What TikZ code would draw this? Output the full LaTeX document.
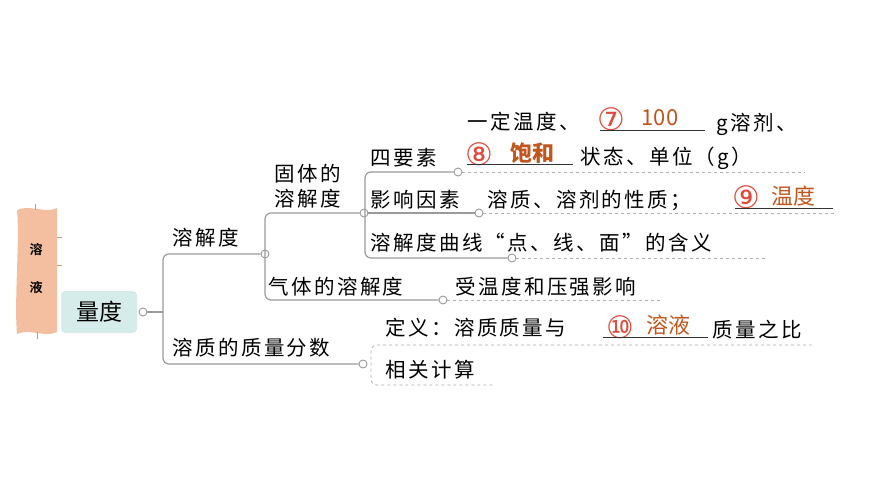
\documentclass[tikz,border=0pt]{standalone}
\usepackage{fontspec}
\setmainfont{Noto Sans CJK SC}
\newfontfamily\cj[LetterSpace=12]{Noto Sans CJK SC}
\newfontfamily\cjb[BoldFont={Noto Sans CJK SC Bold}]{Noto Sans CJK SC}
\newfontfamily\circfont{DejaVu Sans}
\definecolor{ans}{HTML}{C0561E}
\definecolor{num}{HTML}{E04A3A}
\definecolor{ln}{HTML}{9A9A9A}
\definecolor{band}{HTML}{F4BFA0}
\definecolor{tealbox}{HTML}{D6ECEA}
\begin{document}
\begin{tikzpicture}[x=1pt,y=-1pt,
  t/.style={anchor=west,inner sep=0pt,font=\fontsize{20.5}{20.5}\selectfont\cj},
  a/.style={anchor=center,inner sep=0pt,text=ans,font=\fontsize{22}{22}\selectfont},
  n/.style={anchor=center,inner sep=0pt,text=num,font=\fontsize{31}{31}\selectfont\circfont},
  br/.style={draw=ln,line width=1.2pt,rounded corners=6pt},
  dl/.style={draw=ln!80,line width=0.8pt,dashed},
  ul/.style={draw=black!80,line width=1pt},
  dot/.style={circle,draw=ln,fill=white,line width=0.9pt,inner sep=0pt,minimum size=8pt}]
\useasboundingbox (0,0) rectangle (870,489);
% banner
\fill[band] (17,210) .. controls (30,204) and (45,214) .. (57,208) -- (57,332) .. controls (45,338) and (30,328) .. (17,334) .. controls (14,300) and (20,240) .. (17,210);
\draw[band!80!black,line width=0.8pt] (35,204)--(35,210) (57,237)--(62,237) (57,265)--(62,265) (37,332)--(37,339);
\node[font=\fontsize{13}{13}\selectfont\cjb\bfseries] (r1) at (36,250) {溶};
\node[font=\fontsize{13}{13}\selectfont\cjb\bfseries] (r2) at (36,288) {液};
% 量度
\node[fill=tealbox,rounded corners=4pt,minimum width=76pt,minimum height=42pt,font=\fontsize{23}{23}\selectfont] (ld) at (99,312) {量度};
\node[dot] (c0) at (143,312) {};
\coordinate (b0) at (163,312);
\draw[br] (c0)--(b0);
\node[dot] (c1) at (265,254) {};
\node[dot] (c2) at (363,364) {};
\draw[br] (c1) -- (163,254) -- (163,364) -- (c2);
\node[t] (s1) at (172,238) {溶解度};
\node[t] (s2) at (172,348) {溶质的质量分数};
% solid solubility
\node[dot] (c3) at (364,213) {};
\node[dot] (c4) at (443,300) {};
\draw[br] (c3) -- (265,213) -- (265,300) -- (c4);
\draw[br] (c1)--(265,254);
\node[t,font=\fontsize{20.5}{25}\selectfont\cj,align=left] (g1) at (274,186) {固体的\\溶解度};
\node[t] (q1) at (268,287) {气体的溶解度};
\node[t] (q2) at (455,287) {受温度和压强影响};
\coordinate (q2e) at (662,300);
\draw[dl] (c4)--(q2e);
% four elements
\node[dot] (c5) at (458,172) {};
\node[dot] (c6) at (479,213) {};
\node[dot] (c7) at (512,258) {};
\draw[br] (c5) -- (365,172) -- (365,258) -- (c7);
\draw[br] (c3) -- (c6);
\node[t] (f1) at (370,158) {四要素};
\node[t] (f2) at (370,200) {影响因素};
\node[t] (f3) at (370,243) {溶解度曲线“点、线、面”的含义};
\coordinate (d1) at (805,172);
\coordinate (d2) at (835,213);
\coordinate (d3) at (765,258);
\draw[dl] (c5)--(d1);
\draw[dl] (c6)--(d2);
\draw[dl] (c7)--(d3);
% line 1
\node[t] (l1a) at (467,122) {一定温度、};
\node[n] (n7) at (611,119) {⑦};
\node[a] (a7) at (660,118) {100};
\draw[ul] (600,131)--(705,131);
\node[t] (l1b) at (716,124) {g溶剂、};
% line 2
\node[n] (n8) at (479,154) {⑧};
\node[a,font=\fontsize{22}{22}\selectfont\bfseries] (a8) at (532,153) {饱和};
\draw[ul] (467,165)--(573,165);
\node[t] (l2) at (580,158) {状态、单位（g）};
% line 3
\node[t] (l3) at (487,200) {溶质、溶剂的性质；};
\node[n] (n9) at (746,197) {⑨};
\node[a] (a9) at (793,196) {温度};
\draw[ul] (735,209)--(833,209);
% mass fraction
\node[t] (m1) at (385,328) {定义：溶质质量与};
\node[n] (n10) at (620,327) {⑩};
\node[a] (a10) at (668,325) {溶液};
\draw[ul] (603,337)--(708,337);
\node[t] (m2) at (712,330) {质量之比};
\node[t] (m3) at (385,370) {相关计算};
\coordinate (e1) at (812,345);
\coordinate (e2) at (495,385);
\draw[dl,rounded corners=6pt] (e1) -- (371,345) -- (371,385) -- (e2);
\end{tikzpicture}
\end{document}
